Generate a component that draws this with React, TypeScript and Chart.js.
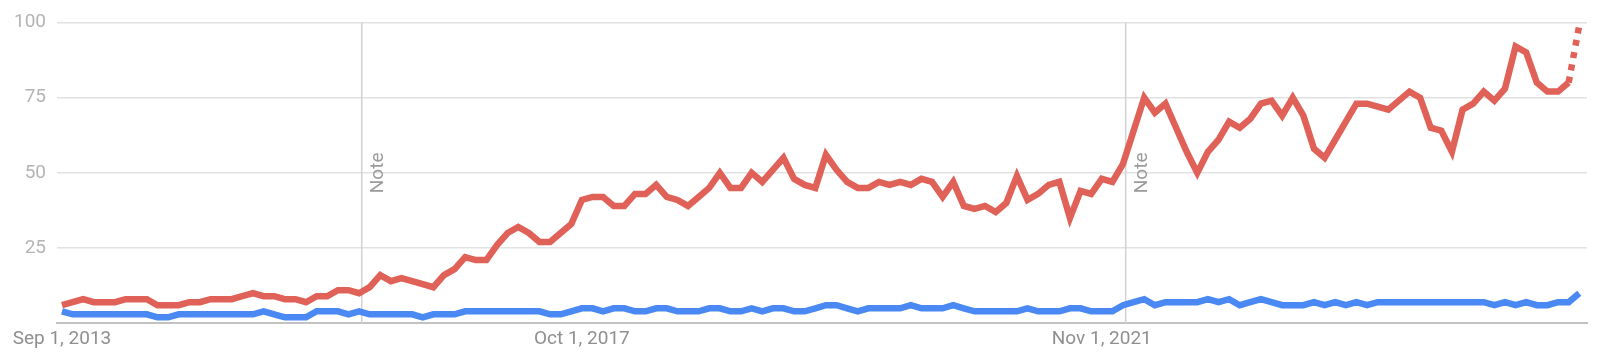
import { useEffect, useRef } from "react";
import { Chart, registerables } from "chart.js";

Chart.register(...registerables);

// Monthly interest, Sep 2013 – Aug 2025 (last month is partial data)
const termA: number[] = [
  6, 7, 8, 7, 7, 7, 8, 8, 8, 6, 6, 6, 7, 7, 8, 8, 8, 9, 10, 9,
  9, 8, 8, 7, 9, 9, 11, 11, 10, 12, 16, 14, 15, 14, 13, 12, 16, 18, 22, 21,
  21, 26, 30, 32, 30, 27, 27, 30, 33, 41, 42, 42, 39, 39, 43, 43, 46, 42, 41, 39,
  42, 45, 50, 45, 45, 50, 47, 51, 55, 48, 46, 45, 56, 51, 47, 45, 45, 47, 46, 47,
  46, 48, 47, 42, 47, 39, 38, 39, 37, 40, 49, 41, 43, 46, 47, 35, 44, 43, 48, 47,
  53, 64, 75, 70, 73, 65, 57, 50, 57, 61, 67, 65, 68, 73, 74, 69, 75, 69, 58, 55,
  61, 67, 73, 73, 72, 71, 74, 77, 75, 65, 64, 57, 71, 73, 77, 74, 78, 92, 90, 80,
  77, 77, 80, 99,
];

const termB: number[] = [
  4, 3, 3, 3, 3, 3, 3, 3, 3, 2, 2, 3, 3, 3, 3, 3, 3, 3, 3, 4,
  3, 2, 2, 2, 4, 4, 4, 3, 4, 3, 3, 3, 3, 3, 2, 3, 3, 3, 4, 4,
  4, 4, 4, 4, 4, 4, 3, 3, 4, 5, 5, 4, 5, 5, 4, 4, 5, 5, 4, 4,
  4, 5, 5, 4, 4, 5, 4, 5, 5, 4, 4, 5, 6, 6, 5, 4, 5, 5, 5, 5,
  6, 5, 5, 5, 6, 5, 4, 4, 4, 4, 4, 5, 4, 4, 4, 5, 5, 4, 4, 4,
  6, 7, 8, 6, 7, 7, 7, 7, 8, 7, 8, 6, 7, 8, 7, 6, 6, 6, 7, 6,
  7, 6, 7, 6, 7, 7, 7, 7, 7, 7, 7, 7, 7, 7, 7, 6, 7, 6, 7, 6,
  6, 7, 7, 10,
];

// x-axis labels and the month index each one sits on
const xTickIndex: number[] = [0, 49, 98];
const xTickLabels: string[] = ["Sep 1, 2013", "Oct 1, 2017", "Nov 1, 2021"];

const yTicks: number[] = [25, 50, 75, 100];

// Annotation markers (position in months from the first point)
const noteIndex: number[] = [28.25, 100.25];
const noteText = "Note";

const RED = "#df6157";
const BLUE = "#4a89f3";

const notesPlugin = {
  id: "notes",
  beforeDatasetsDraw(chart: any) {
    const { ctx, chartArea, scales } = chart;
    const xs = scales.x;
    const ys = scales.y;
    ctx.save();
    noteIndex.forEach((idx) => {
      const px = xs.getPixelForValue(idx);
      ctx.strokeStyle = "#d2d2d2";
      ctx.lineWidth = 1.5;
      ctx.beginPath();
      ctx.moveTo(px, chartArea.top);
      ctx.lineTo(px, chartArea.bottom);
      ctx.stroke();

      ctx.save();
      ctx.translate(px + 21, ys.getPixelForValue(50));
      ctx.rotate(-Math.PI / 2);
      ctx.fillStyle = "#9b9b9b";
      ctx.font = "19px Roboto";
      ctx.textAlign = "center";
      ctx.textBaseline = "alphabetic";
      ctx.fillText(noteText, 0, 0);
      ctx.restore();
    });
    ctx.restore();
  },
};

export default function App() {
  const canvasRef = useRef<HTMLCanvasElement | null>(null);

  useEffect(() => {
    const canvas = canvasRef.current;
    if (!canvas) return;
    Chart.defaults.font.family = "Roboto";
    const last = termA.length - 1;

    const chart = new Chart(canvas, {
      type: "line",
      data: {
        datasets: [
          {
            label: "Term A",
            data: termA.map((v, i) => ({ x: i, y: v })),
            borderColor: RED,
            backgroundColor: RED,
            borderWidth: 6.5,
            pointRadius: 0,
            tension: 0,
            segment: {
              borderDash: (c: any) => (c.p1DataIndex === last ? [6, 6.5] : undefined),
            },
          },
          {
            label: "Term B",
            data: termB.map((v, i) => ({ x: i, y: v })),
            borderColor: BLUE,
            backgroundColor: BLUE,
            borderWidth: 6.5,
            pointRadius: 0,
            tension: 0,
          },
        ],
      },
      options: {
        responsive: false,
        animation: false,
        events: [],
        layout: { padding: { top: 20, right: 13, left: 0, bottom: 0 } },
        plugins: { legend: { display: false }, tooltip: { enabled: false } },
        scales: {
          x: {
            type: "linear",
            min: -0.47,
            max: 143.73,
            grid: { display: false, drawTicks: false },
            border: { display: true, color: "#c2c2c2", width: 2 },
            afterBuildTicks: (s: any) => {
              s.ticks = xTickIndex.map((v) => ({ value: v }));
            },
            afterFit: (s: any) => {
              s.height = 35.7;
            },
            ticks: {
              autoSkip: false,
              maxRotation: 0,
              padding: 5,
              color: "#8f8f8f",
              font: { size: 19 },
              callback: (v: any) => {
                const k = xTickIndex.indexOf(Number(v));
                return k >= 0 ? xTickLabels[k] : "";
              },
            },
          },
          y: {
            min: 0,
            max: 100,
            afterBuildTicks: (s: any) => {
              s.ticks = yTicks.map((v) => ({ value: v }));
            },
            afterFit: (s: any) => {
              s.width = 57;
            },
            grid: { color: "#e2e2e2", lineWidth: 1.5, drawTicks: false },
            border: { display: false },
            ticks: { padding: 11, color: "#b4b4b4", font: { size: 19 } },
          },
        },
      },
      plugins: [notesPlugin],
    });

    return () => chart.destroy();
  }, []);

  return (
    <div style={{ position: "fixed", left: 0, top: 0, width: 1600, height: 359, background: "#fff" }}>
      <canvas ref={canvasRef} width={1600} height={359} />
    </div>
  );
}
